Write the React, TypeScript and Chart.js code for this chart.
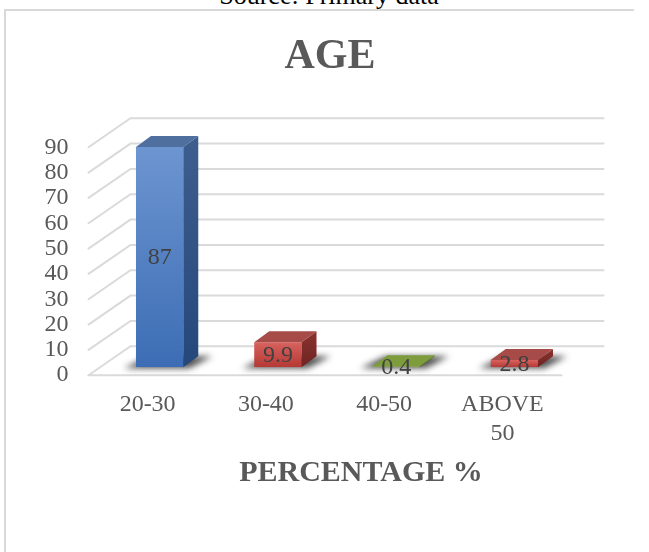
import React, { useEffect, useRef } from 'react';
import { Chart, registerables } from 'chart.js';

Chart.register(...registerables);

// ---- data ----
const chartTitle = 'AGE';
const xAxisTitle = 'PERCENTAGE %';
const sourceNote = 'Source: Primary data';
const categories: (string | string[])[] = ['20-30', '30-40', '40-50', ['ABOVE', '50']];
const percentValues = [87, 9.9, 0.4, 2.8];
const yMin = 0;
const yMax = 90;
const yStep = 10;

// ---- styles ----
const frontTopColors = ['#6d95d1', '#d8625e', '#93b352', '#d8625e'];
const frontBottomColors = ['#3c6db4', '#b53935', '#779a36', '#b53935'];
const sideTopColors = ['#3d5e8e', '#8a3431', '#5a7a2a', '#8a3431'];
const sideBottomColors = ['#26477a', '#6f2321', '#4a6622', '#6f2321'];
const topFaceColors = ['#4f6f9f', '#a64b48', '#7d9c3c', '#a64b48'];

const FONT = "'Liberation Serif', 'Times New Roman', serif";
const TEXT_GRAY = '#595959';
const GRID_COLOR = '#dadada';
const FRONT = { dx: -12, dy: 8 };
const BACK = { dx: 30, dy: -21 };
const BAR_DEPTH = { dx: 15, dy: -11 };

const bar3dPlugin = {
  id: 'bar3d',
  beforeDatasetsDraw(chart: any) {
    const { ctx, chartArea: a, scales } = chart;
    const y = scales.y;
    ctx.save();
    ctx.strokeStyle = GRID_COLOR;
    ctx.lineWidth = 2;
    ctx.lineCap = 'round';
    y.ticks.forEach((t: any) => {
      const py = y.getPixelForValue(t.value);
      ctx.beginPath();
      ctx.moveTo(a.left + FRONT.dx, py + FRONT.dy);
      ctx.lineTo(a.left + BACK.dx, py + BACK.dy);
      ctx.lineTo(a.right + BACK.dx, py + BACK.dy);
      ctx.stroke();
    });
    const p0 = y.getPixelForValue(0);
    ctx.beginPath();
    ctx.moveTo(a.left + FRONT.dx, p0 + FRONT.dy);
    ctx.lineTo(a.right + FRONT.dx, p0 + FRONT.dy);
    ctx.stroke();

    // floor shadows
    const meta = chart.getDatasetMeta(0);
    meta.data.forEach((bar: any) => {
      const { x, width, base } = bar.getProps(['x', 'width', 'base'], true);
      const l = x - width / 2;
      const r = x + width / 2;
      ctx.save();
      ctx.filter = 'blur(3px)';
      ctx.fillStyle = 'rgba(20,20,20,0.75)';
      ctx.beginPath();
      ctx.moveTo(l - 12, base + 1);
      ctx.lineTo(r + 6, base + 1);
      ctx.lineTo(r + BAR_DEPTH.dx + 14, base + BAR_DEPTH.dy);
      ctx.lineTo(l + BAR_DEPTH.dx - 2, base + BAR_DEPTH.dy);
      ctx.closePath();
      ctx.fill();
      ctx.restore();
    });
    ctx.restore();
  },
  afterDatasetsDraw(chart: any) {
    const { ctx } = chart;
    const meta = chart.getDatasetMeta(0);
    ctx.save();
    meta.data.forEach((bar: any, i: number) => {
      const { x, y: top, width, base } = bar.getProps(['x', 'y', 'width', 'base'], true);
      const l = x - width / 2;
      const r = x + width / 2;
      // side face
      const g = ctx.createLinearGradient(0, top + BAR_DEPTH.dy, 0, base);
      g.addColorStop(0, sideTopColors[i]);
      g.addColorStop(1, sideBottomColors[i]);
      ctx.fillStyle = g;
      ctx.beginPath();
      ctx.moveTo(r, top);
      ctx.lineTo(r + BAR_DEPTH.dx, top + BAR_DEPTH.dy);
      ctx.lineTo(r + BAR_DEPTH.dx, base + BAR_DEPTH.dy);
      ctx.lineTo(r, base);
      ctx.closePath();
      ctx.fill();
      // top face
      ctx.fillStyle = topFaceColors[i];
      ctx.beginPath();
      ctx.moveTo(l, top);
      ctx.lineTo(r, top);
      ctx.lineTo(r + BAR_DEPTH.dx, top + BAR_DEPTH.dy);
      ctx.lineTo(l + BAR_DEPTH.dx, top + BAR_DEPTH.dy);
      ctx.closePath();
      ctx.fill();
    });
    // value labels
    ctx.fillStyle = '#404040';
    ctx.font = `24px ${FONT}`;
    ctx.textAlign = 'center';
    ctx.textBaseline = 'middle';
    meta.data.forEach((bar: any, i: number) => {
      const { x, y: top, base } = bar.getProps(['x', 'y', 'base'], true);
      ctx.fillText(String(percentValues[i]), x, (top + base) / 2 + 1);
    });
    ctx.restore();
  },
  afterDraw(chart: any) {
    const { ctx, chartArea: a } = chart;
    ctx.save();
    ctx.fillStyle = TEXT_GRAY;
    ctx.font = `bold 30px ${FONT}`;
    ctx.textAlign = 'center';
    ctx.textBaseline = 'middle';
    ctx.fillText(xAxisTitle, (a.left + a.right) / 2 + 24, a.bottom + 106);
    ctx.restore();
  },
};

export default function App() {
  const ref = useRef<HTMLCanvasElement | null>(null);

  useEffect(() => {
    if (!ref.current) return;
    const chart = new Chart(ref.current, {
      type: 'bar',
      data: {
        labels: categories as any,
        datasets: [
          {
            data: percentValues,
            backgroundColor: (c: any) => {
              const ch = c.chart;
              const ys = ch.scales.y;
              const i = c.dataIndex;
              if (!ys || i === undefined) return frontBottomColors[0];
              const t = ys.getPixelForValue(percentValues[i]);
              const b = ys.getPixelForValue(0);
              if (!isFinite(t) || !isFinite(b)) return frontBottomColors[i];
              const g = ch.ctx.createLinearGradient(0, t, 0, b + 0.01);
              g.addColorStop(0, frontTopColors[i]);
              g.addColorStop(1, frontBottomColors[i]);
              return g;
            },
            borderWidth: 0,
            barPercentage: 1,
            categoryPercentage: 0.4,
          },
        ],
      },
      options: {
        responsive: false,
        animation: false,
        layout: { padding: { left: 44, right: 33, top: 0, bottom: 80 } },
        plugins: {
          legend: { display: false },
          tooltip: { enabled: false },
          title: {
            display: true,
            text: chartTitle,
            color: TEXT_GRAY,
            font: { family: FONT, size: 42, weight: 'bold', lineHeight: 1.2 },
            padding: { top: 31.8, bottom: 57.1 },
          },
        },
        scales: {
          x: {
            grid: { display: false, drawTicks: false },
            border: { display: false },
            ticks: {
              color: TEXT_GRAY,
              font: { family: FONT, size: 24, lineHeight: 1.2 },
              padding: 23.6,
              labelOffset: FRONT.dx,
              maxRotation: 0,
              autoSkip: false,
            },
          },
          y: {
            min: yMin,
            max: yMax,
            grid: { display: false, drawTicks: false },
            border: { display: false },
            afterFit: (scale: any) => {
              scale.width = 56.5;
            },
            ticks: {
              stepSize: yStep,
              autoSkip: false,
              color: TEXT_GRAY,
              font: { family: FONT, size: 24, lineHeight: 1.2 },
              padding: 32,
              labelOffset: FRONT.dy,
            },
          },
          // empty right-hand axis that only reserves the depth room of the 3-D wall
          yDepth: {
            position: 'right',
            display: true,
            min: yMin,
            max: yMax,
            grid: { display: false, drawTicks: false },
            border: { display: false },
            ticks: { display: false },
            afterFit: (scale: any) => {
              scale.width = 42.5;
            },
          },
        },
      },
      plugins: [bar3dPlugin],
    });
    return () => chart.destroy();
  }, []);

  return (
    <div style={{ position: 'fixed', left: 0, top: 0, width: 649, height: 552, overflow: 'hidden', background: '#fff' }}>
      <style>{'html,body{overflow:hidden;}'}</style>
      <div
        style={{
          position: 'absolute',
          left: 0,
          width: 649,
          top: -17.3,
          paddingLeft: 9,
          boxSizing: 'border-box',
          textAlign: 'center',
          fontFamily: FONT,
          fontSize: 26,
          lineHeight: '26px',
          color: '#000',
          whiteSpace: 'nowrap',
        }}
      >
        {sourceNote}
      </div>
      <div style={{ position: 'absolute', left: 4, top: 9, width: 630, height: 2, background: '#d9d9d9' }} />
      <div style={{ position: 'absolute', left: 4, top: 9, width: 2, height: 543, background: '#d9d9d9' }} />
      <canvas ref={ref} width={649} height={552} style={{ position: 'absolute', left: 0, top: 0, width: 649, height: 552 }} />
    </div>
  );
}
